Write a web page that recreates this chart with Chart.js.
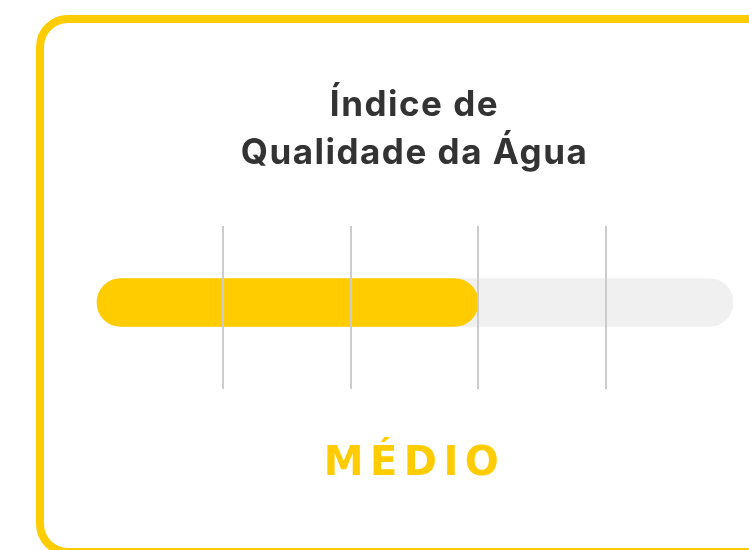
<!DOCTYPE html>
<html>
<head>
<meta charset="utf-8">
<script src="https://cdn.jsdelivr.net/npm/chart.js@4/dist/chart.umd.min.js"></script>
<style>
  html, body { margin: 0; padding: 0; background: #fff; overflow: hidden; }
  #moldura {
    position: absolute; left: 36px; top: 15px;
    width: 780px; height: 541px;
    box-sizing: border-box;
    border: 8px solid #FFCC00; border-radius: 32px;
  }
  #wrap { position: absolute; left: 0; top: 0; width: 749px; height: 550px; }
</style>
</head>
<body>
<div id="moldura"></div>
<div id="wrap"><canvas id="grafico"></canvas></div>
<script>
// dados do indicador
const categorias = ["IQA"];
const valorAtual = [3];        // nível medido
const escala = [5];            // fundo da barra (máximo)
const faixas = [0, 1, 2, 3, 4, 5];
const rotulos = ["Péssimo", "Ruim", "Médio", "Bom", "Ótimo"];
const titulo = ["Índice de", "Qualidade da Água"];

const amarelo = "#FFCC00";
const ctx = document.getElementById("grafico").getContext("2d");

// espaçamento entre letras por bloco de texto (título / subtítulo)
const espacamento = {
  id: "espacamento",
  beforeDraw(chart) {
    chart.boxes.forEach(b => {
      const esp = b.options && b.options.letterSpacing;
      if (!esp || b._espOk) return;
      const orig = b.draw;
      b.draw = function (...args) {
        const c = this.ctx;
        c.save();
        c.letterSpacing = esp;
        orig.apply(this, args);
        c.restore();
      };
      b._espOk = true;
    });
  }
};

new Chart(ctx, {
  type: "bar",
  data: {
    labels: categorias,
    datasets: [
      {
        label: "Valor",
        data: valorAtual,
        backgroundColor: amarelo,
        borderRadius: 24,
        borderSkipped: false,
        barThickness: 48,
        order: 0
      },
      {
        label: "Escala",
        data: escala,
        backgroundColor: "#F0F0F0",
        borderRadius: 24,
        borderSkipped: false,
        barThickness: 48,
        order: 1
      }
    ]
  },
  plugins: [espacamento],
  options: {
    indexAxis: "y",
    responsive: true,
    maintainAspectRatio: false,
    animation: false,
    datasets: { bar: { grouped: false } },
    layout: { padding: { left: 96, right: 16, top: 0, bottom: 61 } },
    plugins: {
      legend: { display: false },
      tooltip: { enabled: false },
      title: {
        display: true,
        text: titulo,
        color: "#333333",
        font: { family: "Inter", size: 35, weight: "bold", lineHeight: 48 / 35 },
        letterSpacing: "1.5px",
        padding: { top: 81, bottom: 49 }
      },
      subtitle: {
        display: true,
        position: "bottom",
        text: rotulos[valorAtual[0] - 1].toUpperCase(),
        color: amarelo,
        font: { family: "DejaVu Sans", size: 40, weight: "bold", lineHeight: 1.2 },
        letterSpacing: "6.5px",
        padding: { top: 52, bottom: 0 }
      }
    },
    scales: {
      x: {
        min: faixas[0],
        max: faixas[faixas.length - 1],
        afterBuildTicks: (axis) => { axis.ticks = faixas.map(v => ({ value: v })); },
        grid: {
          z: 1,
          lineWidth: 2,
          tickLength: 10,
          color: (c) => (c.tick && (c.tick.value === faixas[0] || c.tick.value === faixas[faixas.length - 1])) ? "rgba(0,0,0,0)" : "#CCCCCC"
        },
        border: { display: false },
        ticks: { display: false }
      },
      y: { display: false }
    }
  }
});
</script>
</body>
</html>
